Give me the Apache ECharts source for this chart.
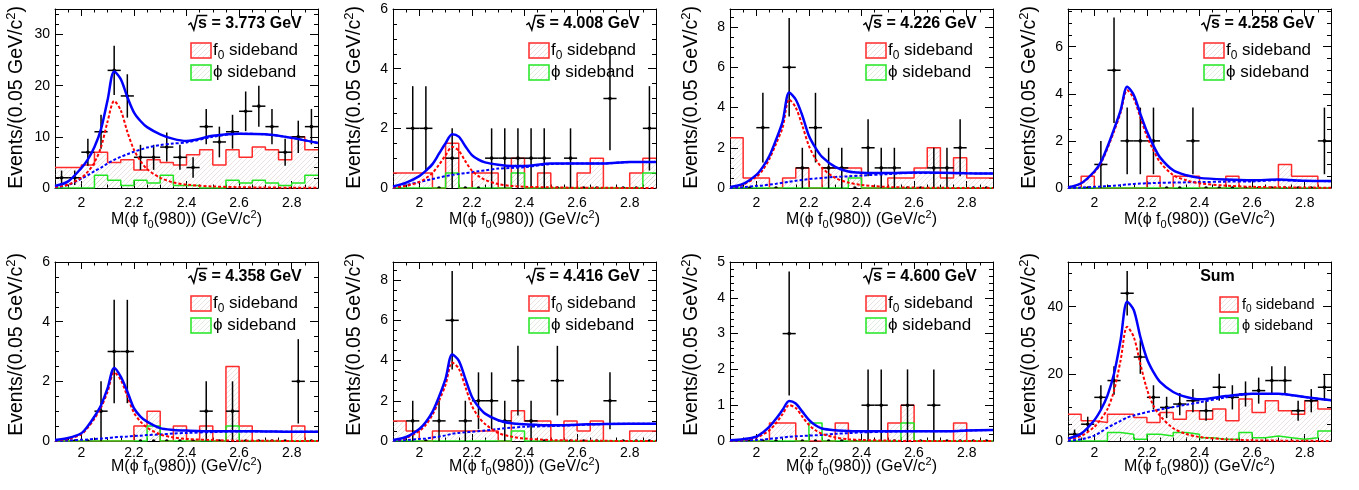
<!DOCTYPE html>
<html>
<head>
<meta charset="utf-8">
<script src="https://cdn.jsdelivr.net/npm/echarts@6/dist/echarts.min.js"></script>
<style>
  html, body { margin: 0; background: #fff; }
  #main { width: 1359px; height: 490px; }
</style>
</head>
<body>
<div id="main"></div>
<script>
// ---------- binning ----------
const binCenters = [1.925, 1.975, 2.025, 2.075, 2.125, 2.175, 2.225, 2.275, 2.325, 2.375,
                    2.425, 2.475, 2.525, 2.575, 2.625, 2.675, 2.725, 2.775, 2.825, 2.875];
const binEdges = [1.90, 1.95, 2.00, 2.05, 2.10, 2.15, 2.20, 2.25, 2.30, 2.35, 2.40,
                  2.45, 2.50, 2.55, 2.60, 2.65, 2.70, 2.75, 2.80, 2.85, 2.90];
const curveX = [1.9, 1.95, 2.0, 2.025, 2.05, 2.075, 2.1, 2.125, 2.15, 2.175, 2.2, 2.225, 2.25, 2.3, 2.35, 2.4, 2.5, 2.6, 2.7, 2.8, 2.9];
const xTicks = [2, 2.2, 2.4, 2.6, 2.8];
const xMinorTicks = [1.95, 2.05, 2.1, 2.15, 2.25, 2.3, 2.35, 2.45, 2.5, 2.55, 2.65, 2.7, 2.75, 2.85];

// ---------- sqrt(s) = 3.773 GeV ----------
const counts3773 = [2, 2, 7, 11, 23, 18, 6, 6, 8, 6, 4, 12, 9, 11, 15, 16, 12, 7, 10, 12];
const f0sb3773 = [4, 4, 4.5, 7, 5, 5.5, 3.5, 5.5, 5, 4.5, 6.5, 7.5, 4.5, 7.5, 6, 8, 7.5, 5.5, 10, 7.5];
const phisb3773 = [0, 0, 0, 2.5, 1.5, 0.5, 1.5, 1, 2.5, 0.5, 0.5, 0, 0, 1.5, 1, 1.5, 1, 0.5, 1, 2.5];
const fit3773 = [0.4, 1.3, 3.9, 5.6, 8.0, 11.5, 17.2, 22.8, 21.3, 17.8, 14.8, 13.1, 11.9, 10.5, 9.6, 9.2, 10.2, 10.6, 10.5, 9.8, 8.8];
const sig3773 = [0.2, 0.65, 2.0, 3.2, 5.0, 8.0, 13.0, 17.0, 15.2, 11.0, 7.5, 5.3, 3.7, 2.0, 1.1, 0.65, 0.3, 0.15, 0.1, 0.05, 0.03];
const bkg3773 = [0.1, 0.6, 1.8, 2.5, 3.3, 4.0, 4.8, 5.5, 6.1, 6.6, 7.1, 7.5, 7.9, 8.4, 8.7, 8.9, 10.0, 10.6, 10.5, 9.8, 8.8];

// ---------- 4.008 GeV ----------
const counts4008 = [0, 2, 2, 0, 1, 0, 0, 1, 1, 1, 1, 1, 0, 1, 0, 0, 3, 0, 0, 2];
const f0sb4008 = [0.5, 0.5, 0.5, 0, 1.5, 0, 0.5, 0.5, 0, 1, 0, 0.5, 0, 0, 0.5, 1, 0, 0, 0.5, 1];
const phisb4008 = [0, 0, 0, 0, 0.5, 0, 0, 0, 0, 0.5, 0, 0, 0, 0, 0, 0, 0, 0, 0, 0.5];
const fit4008 = [0.05, 0.18, 0.4, 0.58, 0.8, 1.15, 1.5, 1.8, 1.72, 1.4, 1.1, 0.95, 0.86, 0.78, 0.74, 0.74, 0.82, 0.82, 0.82, 0.87, 0.87];
const sig4008 = [0.02, 0.07, 0.2, 0.33, 0.5, 0.78, 1.1, 1.38, 1.25, 0.9, 0.58, 0.4, 0.27, 0.13, 0.07, 0.04, 0.02, 0.01, 0.01, 0, 0];
const bkg4008 = [0.01, 0.1, 0.2, 0.25, 0.3, 0.35, 0.4, 0.44, 0.47, 0.5, 0.53, 0.56, 0.59, 0.65, 0.67, 0.7, 0.8, 0.82, 0.82, 0.87, 0.87];

// ---------- 4.226 GeV ----------
const counts4226 = [0, 0, 3, 0, 6, 1, 3, 1, 1, 0, 2, 1, 1, 0, 0, 1, 1, 2, 0, 0];
const f0sb4226 = [2.5, 0.5, 0.5, 0, 0.5, 1, 0, 1, 1, 1, 0, 0, 0.5, 0.5, 1, 2, 0.5, 1.5, 0.5, 0.5];
const phisb4226 = [0, 0, 0, 0, 0, 0, 0, 0, 0, 0.5, 0, 0, 0, 0, 0, 0, 0, 0, 0, 0];
const fit4226 = [0.05, 0.2, 0.65, 1.05, 1.6, 2.4, 3.3, 4.75, 4.4, 3.6, 2.6, 2.0, 1.55, 1.05, 0.82, 0.76, 0.74, 0.77, 0.76, 0.73, 0.72];
const sig4226 = [0.04, 0.17, 0.55, 0.9, 1.45, 2.2, 3.0, 4.4, 4.0, 3.1, 2.1, 1.45, 1.0, 0.5, 0.27, 0.15, 0.05, 0.02, 0.01, 0, 0];
const bkg4226 = [0.01, 0.04, 0.1, 0.13, 0.17, 0.21, 0.26, 0.31, 0.36, 0.4, 0.44, 0.47, 0.5, 0.55, 0.58, 0.62, 0.69, 0.75, 0.75, 0.73, 0.72];

// ---------- 4.258 GeV ----------
const counts4258 = [0, 0, 1, 5, 2, 2, 2, 0, 0, 2, 0, 0, 0, 0, 0, 0, 0, 0, 0, 2];
const f0sb4258 = [0, 0.5, 0, 0, 0, 0, 0.5, 0, 0.5, 0.5, 0, 0, 0.5, 0, 0, 0, 1, 0.5, 0.5, 0];
const phisb4258 = [0, 0, 0, 0, 0, 0, 0, 0, 0, 0, 0, 0, 0, 0, 0, 0, 0, 0, 0, 0];
const fit4258 = [0.03, 0.2, 0.7, 1.1, 1.75, 2.5, 3.3, 4.3, 3.95, 3.15, 2.4, 1.8, 1.3, 0.75, 0.54, 0.43, 0.36, 0.33, 0.36, 0.31, 0.3];
const sig4258 = [0.03, 0.19, 0.66, 1.05, 1.68, 2.4, 3.2, 4.15, 3.8, 3.0, 2.2, 1.6, 1.1, 0.55, 0.33, 0.2, 0.1, 0.05, 0.03, 0.02, 0.01];
const bkg4258 = [0, 0.02, 0.05, 0.06, 0.08, 0.1, 0.12, 0.15, 0.17, 0.19, 0.2, 0.21, 0.22, 0.23, 0.24, 0.25, 0.27, 0.28, 0.33, 0.3, 0.29];

// ---------- 4.358 GeV ----------
const counts4358 = [0, 0, 0, 1, 3, 3, 0, 0, 0, 0, 0, 1, 0, 1, 0, 0, 0, 0, 2, 0];
const f0sb4358 = [0, 0, 0, 0, 0, 0, 0.5, 1, 0, 0.5, 0, 0.5, 0, 2.5, 0.5, 0, 0, 0, 0.5, 0];
const phisb4358 = [0, 0, 0, 0, 0, 0, 0, 0.5, 0, 0, 0, 0, 0, 0.5, 0, 0, 0, 0, 0, 0];
const fit4358 = [0.03, 0.1, 0.26, 0.5, 0.82, 1.2, 1.77, 2.45, 2.16, 1.66, 1.1, 0.82, 0.65, 0.43, 0.37, 0.35, 0.33, 0.33, 0.32, 0.31, 0.31];
const sig4358 = [0.02, 0.07, 0.22, 0.45, 0.75, 1.12, 1.65, 2.3, 2.05, 1.5, 0.95, 0.65, 0.45, 0.22, 0.12, 0.07, 0.03, 0.01, 0.01, 0, 0];
const bkg4358 = [0, 0.02, 0.04, 0.05, 0.07, 0.08, 0.1, 0.12, 0.14, 0.15, 0.17, 0.18, 0.2, 0.22, 0.25, 0.27, 0.3, 0.32, 0.32, 0.31, 0.31];

// ---------- 4.416 GeV ----------
const counts4416 = [0, 1, 0, 1, 6, 1, 2, 2, 1, 3, 1, 0, 3, 0, 0, 0, 2, 0, 0, 0];
const f0sb4416 = [1, 0.5, 0, 0.5, 0.5, 0.5, 0.5, 0.5, 0, 1.5, 1, 1, 0, 1, 0.5, 1, 0, 0, 0.5, 0.5];
const phisb4416 = [0, 0, 0, 0, 0, 0, 0, 0, 0, 0.5, 0, 0, 0, 0, 0, 0, 0, 0, 0, 0];
const fit4416 = [0.05, 0.2, 0.6, 0.95, 1.45, 2.2, 3.1, 4.3, 4.0, 3.1, 2.2, 1.7, 1.36, 1.03, 0.88, 0.83, 0.78, 0.81, 0.85, 0.86, 0.86];
const sig4416 = [0.04, 0.15, 0.5, 0.8, 1.3, 2.0, 2.8, 3.9, 3.6, 2.7, 1.75, 1.2, 0.85, 0.4, 0.22, 0.12, 0.05, 0.02, 0.01, 0, 0];
const bkg4416 = [0.01, 0.05, 0.1, 0.13, 0.17, 0.22, 0.28, 0.36, 0.4, 0.43, 0.46, 0.49, 0.52, 0.6, 0.66, 0.71, 0.74, 0.79, 0.84, 0.86, 0.86];

// ---------- 4.600 GeV ----------
const counts4600 = [0, 0, 0, 0, 3, 0, 0, 0, 0, 0, 1, 1, 0, 1, 0, 1, 0, 0, 0, 0];
const f0sb4600 = [0, 0, 0, 0.5, 0.5, 0, 0, 0, 0.5, 0, 0, 0, 0.5, 1, 0, 0, 0, 0.5, 0, 0];
const phisb4600 = [0, 0, 0, 0, 0, 0, 0.5, 0, 0, 0, 0, 0, 0, 0.5, 0, 0, 0, 0, 0, 0];
const fit4600 = [0.02, 0.05, 0.12, 0.24, 0.4, 0.62, 0.87, 1.12, 1.05, 0.82, 0.59, 0.44, 0.35, 0.3, 0.28, 0.27, 0.27, 0.27, 0.27, 0.29, 0.31];
const sig4600 = [0.01, 0.03, 0.1, 0.18, 0.3, 0.5, 0.75, 1.0, 0.92, 0.68, 0.45, 0.3, 0.2, 0.1, 0.05, 0.03, 0.01, 0, 0, 0, 0];
const bkg4600 = [0, 0.01, 0.03, 0.04, 0.06, 0.08, 0.1, 0.12, 0.13, 0.14, 0.15, 0.16, 0.17, 0.2, 0.22, 0.24, 0.26, 0.27, 0.27, 0.29, 0.31];

// ---------- Sum ----------
const countsSum = [2, 5, 13, 18, 44, 25, 13, 10, 11, 12, 9, 16, 13, 14, 15, 18, 18, 9, 12, 16];
const f0sbSum = [8, 6, 5.5, 8, 8, 7, 5.5, 8.5, 6.5, 9, 6.5, 9.5, 6, 12.5, 8.5, 12, 9, 8, 12, 9.5];
const phisbSum = [0, 0, 0, 2.5, 2, 0.5, 2, 1.5, 2.5, 2, 1, 0.5, 0.5, 2.5, 1, 1.5, 1, 0.5, 1, 3];
const fitSum = [0.7, 2.2, 6.2, 9.3, 13.5, 20, 30, 41.5, 39, 31, 24.5, 20.5, 17.6, 14.6, 13.1, 12.4, 13.4, 14.1, 14.1, 13.1, 12.1];
const sigSum = [0.5, 1.5, 4.2, 6.5, 9.5, 15, 24, 34, 31, 23, 15.5, 10.5, 7.5, 3.8, 2.1, 1.2, 0.5, 0.2, 0.1, 0.05, 0.02];
const bkgSum = [0.1, 0.5, 1.6, 2.7, 4.0, 5.0, 6.0, 7.0, 7.6, 8.1, 8.6, 9.0, 9.4, 10.1, 10.8, 11.5, 13.0, 14.0, 14.0, 13.1, 12.1];

const panels = [
  { label: "3.773", counts: counts3773, f0: f0sb3773, phi: phisb3773, fit: fit3773, sig: sig3773, bkg: bkg3773, ymax: 35, yTicks: [0, 10, 20, 30], yStep: 2 },
  { label: "4.008", counts: counts4008, f0: f0sb4008, phi: phisb4008, fit: fit4008, sig: sig4008, bkg: bkg4008, ymax: 6, yTicks: [0, 2, 4, 6], yStep: 0.5 },
  { label: "4.226", counts: counts4226, f0: f0sb4226, phi: phisb4226, fit: fit4226, sig: sig4226, bkg: bkg4226, ymax: 8.9, yTicks: [0, 2, 4, 6, 8], yStep: 0.5 },
  { label: "4.258", counts: counts4258, f0: f0sb4258, phi: phisb4258, fit: fit4258, sig: sig4258, bkg: bkg4258, ymax: 7.6, yTicks: [0, 2, 4, 6], yStep: 0.5 },
  { label: "4.358", counts: counts4358, f0: f0sb4358, phi: phisb4358, fit: fit4358, sig: sig4358, bkg: bkg4358, ymax: 6, yTicks: [0, 2, 4, 6], yStep: 0.5 },
  { label: "4.416", counts: counts4416, f0: f0sb4416, phi: phisb4416, fit: fit4416, sig: sig4416, bkg: bkg4416, ymax: 8.9, yTicks: [0, 2, 4, 6, 8], yStep: 0.5 },
  { label: "4.600", counts: counts4600, f0: f0sb4600, phi: phisb4600, fit: fit4600, sig: sig4600, bkg: bkg4600, ymax: 5, yTicks: [0, 1, 2, 3, 4, 5], yStep: 0.2 },
  { label: "Sum", counts: countsSum, f0: f0sbSum, phi: phisbSum, fit: fitSum, sig: sigSum, bkg: bkgSum, ymax: 53.3, yTicks: [0, 20, 40], yStep: 5 },
];

// ---------- layout ----------
const gridLeft = [55, 393, 730, 1068];
const gridTop = [9, 262];
const gridW = 263, gridH = 179;
const FONT = "'Liberation Sans', Arial, Helvetica, sans-serif";

function hatch(color) {
  const c = document.createElement("canvas");
  c.width = 5; c.height = 5;
  const g = c.getContext("2d");
  g.strokeStyle = color;
  g.lineWidth = 0.8;
  g.beginPath();
  g.moveTo(0, 5); g.lineTo(5, 0);
  g.moveTo(-1, 1); g.lineTo(1, -1);
  g.moveTo(4, 6); g.lineTo(6, 4);
  g.stroke();
  return c;
}
const redHatch = { image: hatch("rgba(190,150,150,0.35)"), repeat: "repeat" };
const greenHatch = { image: hatch("rgba(150,190,150,0.35)"), repeat: "repeat" };

const steps = (vals) => {
  const d = vals.map((v, i) => [binEdges[i], v]);
  d.push([binEdges[binEdges.length - 1], vals[vals.length - 1]]);
  return d;
};

const grids = [], xAxes = [], yAxes = [], series = [], graphics = [];

panels.forEach((p, i) => {
  const row = Math.floor(i / 4);
  const L = gridLeft[i % 4], T = gridTop[row], B = T + gridH;
  grids.push({ left: L, top: T, width: gridW, height: gridH });

  const yMinor = [];
  for (let k = 1; k * p.yStep < p.ymax; ++k) {
    const v = Math.round(k * p.yStep * 1000) / 1000;
    if (p.yTicks.indexOf(v) < 0) yMinor.push(v);
  }

  const lab = { fontSize: 14, fontFamily: FONT, color: "#000" };
  const line = { onZero: false, lineStyle: { color: "#000", width: 1 } };
  const tick = (vals, len) => ({ show: true, inside: true, length: len, customValues: vals, lineStyle: { color: "#000", width: 1 } });

  // x axes: bottom major, bottom minor, top major, top minor
  [["bottom", xTicks, 7, true], ["bottom", xMinorTicks, 3.5, false], ["top", xTicks, 7, false], ["top", xMinorTicks, 3.5, false]].forEach(([pos, vals, len, showLab], k) => {
    xAxes.push({
      type: "value", gridIndex: i, position: pos, min: 1.9, max: 2.9,
      axisLine: Object.assign({ show: k % 2 === 0 }, line),
      axisTick: tick(vals, len),
      axisLabel: Object.assign({ show: showLab, customValues: vals, margin: row === 0 ? 8 : 5 }, lab),
      splitLine: { show: false },
    });
  });
  [["left", p.yTicks, 8, true], ["left", yMinor, 4, false], ["right", p.yTicks, 8, false], ["right", yMinor, 4, false]].forEach(([pos, vals, len, showLab], k) => {
    yAxes.push({
      type: "value", gridIndex: i, position: pos, min: 0, max: p.ymax,
      axisLine: Object.assign({ show: k % 2 === 0 }, line),
      axisTick: tick(vals, len),
      axisLabel: Object.assign({ show: showLab, customValues: vals, margin: 5 }, lab),
      splitLine: { show: false },
    });
  });

  const ax = { xAxisIndex: 4 * i, yAxisIndex: 4 * i };

  series.push(Object.assign({
    type: "line", step: "end", data: steps(p.f0), symbol: "none", z: 2,
    lineStyle: { color: "#ff2a2a", width: 1.5 }, areaStyle: { color: redHatch, opacity: 1 },
  }, ax));
  series.push(Object.assign({
    type: "line", step: "end", data: steps(p.phi), symbol: "none", z: 2,
    lineStyle: { color: "#22e622", width: 1.5 }, areaStyle: { color: greenHatch, opacity: 1 },
  }, ax));
  series.push(Object.assign({
    type: "custom", z: 3, clip: true,
    data: p.counts.map((n, k) => [binCenters[k], n, Math.sqrt(n)]),   // sqrt(N) error bars
    renderItem: (params, api) => {
      const x = api.value(0), y = api.value(1), e = api.value(2);
      const c = api.coord([x, y]);
      const kids = [{ type: "circle", shape: { cx: c[0], cy: c[1], r: 1.8 }, style: { fill: "#000" } }];
      if (y > 0) {
        const l = api.coord([x - 0.025, y]), r = api.coord([x + 0.025, y]);
        const t = api.coord([x, y + e]), b = api.coord([x, y - e]);
        kids.push({ type: "line", shape: { x1: l[0], y1: l[1], x2: r[0], y2: r[1] }, style: { stroke: "#000", lineWidth: 1.5 } });
        kids.push({ type: "line", shape: { x1: t[0], y1: t[1], x2: b[0], y2: b[1] }, style: { stroke: "#000", lineWidth: 1.5 } });
      }
      return { type: "group", children: kids };
    },
  }, ax));
  const curve = (vals, color, type, width, z) => Object.assign({
    type: "line", smooth: 0.3, symbol: "none", z: z,
    data: curveX.map((x, k) => [x, vals[k]]),
    lineStyle: { color: color, width: width, type: type },
  }, ax);
  series.push(curve(p.bkg, "#0000ff", [3, 2], 2, 4));
  series.push(curve(p.sig, "#ff0000", [3, 2], 2, 4));
  series.push(curve(p.fit, "#0000ff", "solid", 2.5, 5));

  // ---- texts ----
  const isSum = p.label === "Sum";
  if (isSum) {
    graphics.push({ type: "text", x: L + 149.5, y: T + 15, style: { text: "Sum", font: "bold 16px " + FONT, fill: "#000", align: "center", verticalAlign: "middle", textAlign: "center", textVerticalAlign: "middle" } });
  } else {
    const x0 = L + 133.3, yc = T + 15;
    graphics.push({ type: "polyline", shape: { points: [[x0, yc + 1], [x0 + 2.5, yc - 1], [x0 + 5.5, yc + 6], [x0 + 9, yc - 8.5], [x0 + 19, yc - 8.5]] }, style: { stroke: "#000", lineWidth: 1.5, fill: null } });
    graphics.push({ type: "text", x: x0 + 9.8, y: yc, style: { text: "s = " + p.label + " GeV", font: "bold 16px " + FONT, fill: "#000", verticalAlign: "middle", textVerticalAlign: "middle" } });
  }
  const bx = isSum ? L + 152 : L + 136, bw = isSum ? 18 : 20, tx = isSum ? L + 174 : L + 158;
  const fs = isSum ? 14.5 : 17;
  const rows = [["f{s|0} sideband", "#ff2a2a", redHatch, T + (isSum ? 35 : 34)], ["\u03d5 sideband", "#22e622", greenHatch, T + 56]];
  rows.forEach(([txt, col, pat, y]) => {
    graphics.push({ type: "rect", shape: { x: bx, y: y, width: bw, height: 15 }, style: { fill: pat, stroke: col, lineWidth: 1.5 } });
    graphics.push({ type: "text", x: tx, y: y + 7.5, style: {
      text: txt, fontSize: fs, fontFamily: FONT, fill: "#000", verticalAlign: "middle", textVerticalAlign: "middle",
      rich: { s: { fontSize: fs * 0.7, fontFamily: FONT, padding: [fs * 0.6, 0, 0, 0] } } } });
  });

  // axis titles
  graphics.push({ type: "text", x: L + gridW / 2, y: B + (row === 0 ? 32 : 26), style: {
    text: "M(\u03d5 f{s|0}(980)) (GeV/c{p|2})", fontSize: 16, fontFamily: FONT, fill: "#000",
    align: "center", verticalAlign: "middle", textAlign: "center", textVerticalAlign: "middle",
    rich: { s: { fontSize: 11, fontFamily: FONT, padding: [10, 0, 0, 0] }, p: { fontSize: 11, fontFamily: FONT, padding: [0, 0, 10, 0] } } } });
  graphics.push({ type: "text", x: L - 38, y: T - (row === 0 ? 3 : 9), rotation: Math.PI / 2, style: {
    text: "Events/(0.05 GeV/c{p|2})", fontSize: 19.5, fontFamily: FONT, fill: "#000",
    align: "right", verticalAlign: "middle", textAlign: "right", textVerticalAlign: "middle",
    rich: { p: { fontSize: 13, fontFamily: FONT, padding: [0, 0, 12, 0] } } } });
});

const chart = echarts.init(document.getElementById("main"));
chart.setOption({
  animation: false,
  backgroundColor: "#fff",
  grid: grids,
  xAxis: xAxes,
  yAxis: yAxes,
  series: series,
  graphic: { elements: graphics },
});
</script>
</body>
</html>
